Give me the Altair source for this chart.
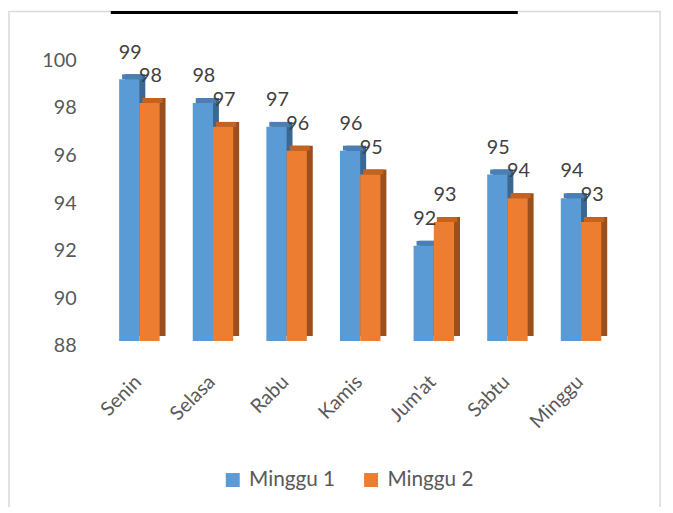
import altair as alt
import pandas as pd

days = ["Senin", "Selasa", "Rabu", "Kamis", "Jum'at", "Sabtu", "Minggu"]
series_names = ["Minggu 1", "Minggu 2"]
minggu1 = [99, 98, 97, 96, 92, 95, 94]
minggu2 = [98, 97, 96, 95, 93, 94, 93]
y_ticks = [88, 90, 92, 94, 96, 98, 100]

rows = []
for d, a, b in zip(days, minggu1, minggu2):
    rows.append({"day": d, "series": "Minggu 1", "value": a})
    rows.append({"day": d, "series": "Minggu 2", "value": b})
df = pd.DataFrame(rows)

FONT = "Lato"
TXT = "#595959"
FRONT = ["#5B9BD5", "#ED7D31"]
TOP = ["#4A7EB5", "#C4621F"]
SIDE = ["#3A6894", "#9A4F1C"]

W, H = 529, 289
P_IN, P_OUT = 0.45, 0.275
step = W / (len(days) - P_IN + 2 * P_OUT)
bw = step * (1 - P_IN)
DEPTH_X, DEPTH_Y = 6, 5

x_enc = alt.X(
    "day:N", sort=days, title=None,
    scale=alt.Scale(paddingInner=P_IN, paddingOuter=P_OUT),
    axis=alt.Axis(labelAngle=-45, labelFontSize=20, labelColor=TXT, labelFont=FONT,
                  domain=False, ticks=False, labelPadding=31, labelOffset=-8),
)


def xo(shift):
    return alt.XOffset("series:N", sort=series_names,
                       scale=alt.Scale(domain=series_names, paddingInner=0, paddingOuter=0,
                                       range=[shift, shift + bw]))


y_enc = alt.Y(
    "value:Q", title=None,
    scale=alt.Scale(domain=[88, 100], nice=False, zero=False),
    axis=alt.Axis(values=y_ticks, labelFontSize=20, labelColor=TXT, labelFont=FONT,
                  domain=False, ticks=False, grid=False, labelPadding=23, labelOffset=5),
)
y2_base = alt.Y2(datum=88)


def pick(cols):
    return alt.condition(alt.datum.series == "Minggu 1", alt.value(cols[0]), alt.value(cols[1]))


base = alt.Chart(df)

sides = base.mark_bar(yOffset=-DEPTH_Y, y2Offset=-DEPTH_Y).encode(
    x=x_enc, xOffset=xo(DEPTH_X), y=y_enc, y2=y2_base, color=pick(SIDE)
)
tops = base.mark_bar(yOffset=-DEPTH_Y, y2Offset=0).encode(
    x=x_enc, xOffset=xo(DEPTH_X / 2), y=y_enc, y2=alt.Y2("value:Q"), color=pick(TOP)
)
fronts = base.mark_bar().encode(
    x=x_enc, xOffset=xo(0), y=y_enc, y2=y2_base,
    color=alt.Color(
        "series:N", sort=series_names,
        scale=alt.Scale(domain=series_names, range=FRONT),
        legend=alt.Legend(
            title=None, orient="none", direction="horizontal",
            legendX=125, legendY=419,
            symbolType="square", symbolSize=200, symbolStrokeWidth=0,
            labelFontSize=21, labelColor=TXT, labelFont=FONT,
            labelOffset=6, columnPadding=25,
        ),
    ),
)
label_xo = alt.XOffset("series:N", sort=series_names,
                       scale=alt.Scale(domain=series_names, type="point", padding=0,
                                       range=[1 + bw / 4, 1 + 3 * bw / 4]))
labels = base.mark_text(dy=-17, baseline="bottom", fontSize=20, font=FONT,
                        color="#404040").encode(
    x=x_enc, xOffset=label_xo, y=y_enc, text=alt.Text("value:Q")
)

deco = alt.Data(values=[{"k": 1}])
border = alt.Chart(deco).mark_rect(fillOpacity=0, stroke="#D9D9D9", strokeWidth=1.5).encode(
    x=alt.value(-91), x2=alt.value(568), y=alt.value(-44.5), y2=alt.value(700)
)
topline = alt.Chart(deco).mark_rule(color="black", strokeWidth=3).encode(
    x=alt.value(12), x2=alt.value(424), y=alt.value(-43.5)
)

chart = alt.layer(border, topline, sides, tops, fronts, labels).resolve_scale(
    xOffset="independent"
).properties(
    width=W, height=H,
    padding={"left": 92, "top": 45, "right": 44, "bottom": 165},
    autosize="none",
).configure_view(strokeWidth=0)

chart.save("out.html", embed_options={"renderer": "svg", "actions": False})
